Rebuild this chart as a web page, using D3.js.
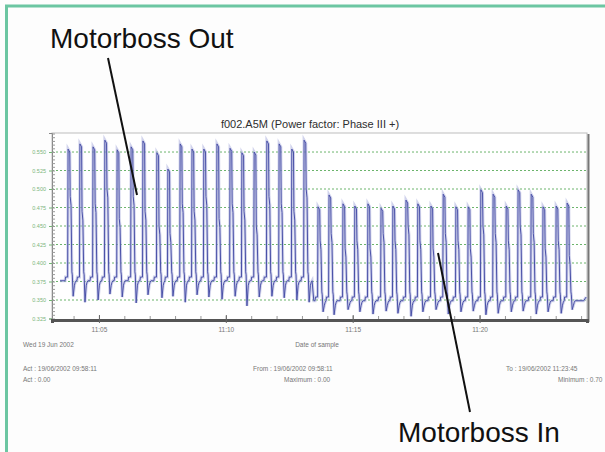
<!DOCTYPE html>
<html>
<head>
<meta charset="utf-8">
<script src="https://cdn.jsdelivr.net/npm/d3@7"></script>
<style>
  body { margin: 0; background: #fdfdfd; }
  svg { display: block; font-family: "Liberation Sans", Arial, sans-serif; }
</style>
</head>
<body>
<div class="chart"></div>
<script>
const WIDTH = 605
const HEIGHT = 452
const MARGIN = {top: 133, right: 18, bottom: 132, left: 52}

const TITLE = "f002.A5M (Power factor: Phase III +)"
const TIME_START = "11:03:09"
const TIME_END = "11:24:14"
const X_TICKS = ["11:05", "11:10", "11:15", "11:20"]
const Y_TICKS = [0.325, 0.350, 0.375, 0.400, 0.425, 0.450, 0.475, 0.500, 0.525, 0.550]

// Motorboss out: spike times, peak, mid-step and dip values
const OUT_BASE = 0.376
const OUT_TIMES = ["11:03:47","11:04:15","11:04:46","11:05:14","11:05:43","11:06:16","11:06:44","11:07:17","11:07:43","11:08:12",
                   "11:08:40","11:09:08","11:09:39","11:10:10","11:10:38","11:11:07","11:11:37","11:12:06","11:12:36","11:13:05"]
const OUT_PEAKS = [0.554,0.561,0.557,0.566,0.553,0.557,0.565,0.549,0.527,0.561,0.554,0.554,0.561,0.555,0.549,0.550,0.565,0.561,0.554,0.566]
const OUT_MIDS  = [0.49,0.47,0.48,0.50,0.46,0.49,0.47,0.45,0.44,0.48,0.47,0.49,0.46,0.48,0.47,0.45,0.49,0.48,0.47,0.50]
const OUT_DIPS  = [0.355,0.347,0.350,0.358,0.354,0.346,0.357,0.353,0.355,0.347,0.357,0.354,0.351,0.355,0.342,0.354,0.355,0.353,0.350,0.347]

// Motorboss in
const IN_BASE = 0.349
const IN_TIMES = ["11:13:38","11:14:04","11:14:37","11:15:05","11:15:36","11:16:07","11:16:35","11:17:06","11:17:34","11:18:05","11:18:34",
                  "11:19:04","11:19:33","11:20:03","11:20:32","11:21:03","11:21:31","11:22:02","11:22:30","11:23:01","11:23:27"]
const IN_PEAKS = [0.476,0.492,0.480,0.477,0.480,0.474,0.477,0.485,0.480,0.477,0.493,0.476,0.476,0.499,0.493,0.477,0.499,0.493,0.476,0.477,0.481]
const IN_MIDS  = [0.43,0.44,0.42,0.43,0.42,0.44,0.43,0.45,0.43,0.42,0.44,0.43,0.42,0.45,0.44,0.43,0.45,0.44,0.42,0.43,0.41]
const IN_DIPS  = [0.334,0.330,0.337,0.334,0.331,0.335,0.332,0.328,0.334,0.337,0.331,0.334,0.335,0.330,0.332,0.334,0.335,0.331,0.334,0.332,0.337]

const parseTime = d3.timeParse("%H:%M:%S")
const sec = (t, s) => new Date(t.getTime() + s * 1000)

// one pump cycle: small step, sharp rise, short top, fall through a step, dip under baseline, recover
function cyclePoints(t, peak, mid, dip, base) {
  return [
    [sec(t, -7), base], [sec(t, -6), base + 0.005], [sec(t, -1), base + 0.005],
    [t, peak], [sec(t, 4), peak - 0.004], [sec(t, 5), mid], [sec(t, 7), mid - 0.012],
    [sec(t, 9), base + 0.012], [sec(t, 10), base + 0.008], [sec(t, 12), dip],
    [sec(t, 15), base - 0.006], [sec(t, 17), base - 0.002], [sec(t, 19), base]
  ]
}

let series = [[parseTime("11:03:28"), OUT_BASE]]
OUT_TIMES.forEach((t, i) => series.push(...cyclePoints(parseTime(t), OUT_PEAKS[i], OUT_MIDS[i], OUT_DIPS[i], OUT_BASE)))
series.push([parseTime("11:13:24"), OUT_BASE], [parseTime("11:13:28"), IN_BASE])
IN_TIMES.forEach((t, i) => series.push(...cyclePoints(parseTime(t), IN_PEAKS[i], IN_MIDS[i], IN_DIPS[i], IN_BASE)))
series.push([parseTime("11:24:06"), IN_BASE], [parseTime("11:24:12"), IN_BASE + 0.005])

const svg = d3.select(".chart").append("svg").attr("width", WIDTH).attr("height", HEIGHT)

// green frame of the figure
svg.append("rect").attr("x", 6.5).attr("y", 6).attr("width", 620).attr("height", 470)
  .attr("fill", "none").attr("stroke", "#6cc6a2").attr("stroke-width", 3)

const x = d3.scaleTime().domain([parseTime(TIME_START), parseTime(TIME_END)]).range([MARGIN.left, WIDTH - MARGIN.right])
const y = d3.scaleLinear().domain([0.325, 0.5757]).range([HEIGHT - MARGIN.bottom - 1.5, MARGIN.top])

// Plot box
svg.append("rect").attr("x", MARGIN.left).attr("y", MARGIN.top)
  .attr("width", WIDTH - MARGIN.right - MARGIN.left).attr("height", HEIGHT - MARGIN.bottom - MARGIN.top)
  .attr("fill", "#fff").attr("stroke", "#bdbdbd")
svg.append("line").attr("x1", WIDTH - MARGIN.right + 1.5).attr("x2", WIDTH - MARGIN.right + 1.5)
  .attr("y1", MARGIN.top + 1).attr("y2", HEIGHT - MARGIN.bottom + 2).attr("stroke", "#777").attr("stroke-width", 2)

svg.append("text").attr("x", 310).attr("y", 128).attr("text-anchor", "middle")
  .attr("font-size", 11).attr("fill", "#2e2e2e").text(TITLE)

// Gridlines
svg.append("g").selectAll("line").data(Y_TICKS.slice(1)).join("line")
  .attr("x1", MARGIN.left).attr("x2", WIDTH - MARGIN.right)
  .attr("y1", d => y(d)).attr("y2", d => y(d))
  .attr("stroke", "#6cb46c").attr("stroke-dasharray", "2,2")

// Y axis: labels + dense minor ticks
const yAxis = svg.append("g").attr("transform", `translate(${MARGIN.left},0)`)
  .call(d3.axisLeft(y).tickValues(Y_TICKS).tickFormat(d3.format(".3f")).tickSize(3).tickPadding(3))
yAxis.select(".domain").attr("stroke", "#888")
yAxis.selectAll(".tick line").attr("stroke", "#72b872")
yAxis.selectAll(".tick text").attr("fill", "#7bb57b").attr("font-size", 5.5).attr("font-family", "Liberation Sans, Arial")
svg.append("g").attr("transform", `translate(${MARGIN.left},0)`)
  .call(d3.axisRight(y).tickValues(d3.range(0.325, 0.5751, 0.005)).tickSize(3).tickFormat(""))
  .call(g => g.select(".domain").remove())
  .selectAll(".tick line").attr("stroke", "#999")

// Signal: soft halo then the trace
const line = d3.line().x(d => x(d[0])).y(d => y(d[1]))
svg.append("path").datum(series).attr("d", line).attr("fill", "none")
  .attr("stroke", "#b2b6e0").attr("stroke-width", 3).attr("stroke-opacity", 0.6)
svg.append("path").datum(series).attr("d", line).attr("fill", "none")
  .attr("stroke", "#4a51a8").attr("stroke-width", 1)

// X axis
const xBottom = HEIGHT - MARGIN.bottom
const xMinor = svg.append("g").attr("transform", `translate(0,${xBottom})`)
  .call(d3.axisTop(x).ticks(d3.timeMinute.every(1)).tickSize(4).tickFormat(""))
xMinor.select(".domain").remove()
xMinor.selectAll(".tick line").attr("stroke", "#999")
const xAxis = svg.append("g").attr("transform", `translate(0,${xBottom})`)
  .call(d3.axisBottom(x).tickValues(X_TICKS.map(d => d3.timeParse("%H:%M")(d))).tickFormat(d3.timeFormat("%H:%M")).tickSize(3).tickPadding(4))
xAxis.select(".domain").attr("stroke", "#555").attr("stroke-width", 3)
xAxis.selectAll(".tick line").attr("stroke", "#666").attr("y1", -5)
xAxis.selectAll(".tick text").attr("fill", "#777").attr("font-size", 6.5).attr("font-family", "Liberation Sans, Arial")

// Footer info
const footer = [
  {x: 23, y: 347, a: "start", t: "Wed 19 Jun 2002"},
  {x: 317, y: 347, a: "middle", t: "Date of sample"},
  {x: 23, y: 371, a: "start", t: "Act : 19/06/2002 09:58:11"},
  {x: 23, y: 382, a: "start", t: "Act : 0.00"},
  {x: 253, y: 371, a: "start", t: "From : 19/06/2002 09:58:11"},
  {x: 284, y: 382, a: "start", t: "Maximum : 0.00"},
  {x: 506, y: 371, a: "start", t: "To : 19/06/2002 11:23:45"},
  {x: 558, y: 382, a: "start", t: "Minimum : 0.70"}
]
svg.append("g").selectAll("text").data(footer).join("text")
  .attr("x", d => d.x).attr("y", d => d.y).attr("text-anchor", d => d.a)
  .attr("font-size", 6.5).attr("fill", "#777").text(d => d.t)

// Annotations
svg.append("line").attr("x1", 108).attr("y1", 58).attr("x2", 137).attr("y2", 195).attr("stroke", "#111").attr("stroke-width", 2)
svg.append("line").attr("x1", 438).attr("y1", 253).attr("x2", 470).attr("y2", 412).attr("stroke", "#111").attr("stroke-width", 2)
svg.append("text").attr("x", 50).attr("y", 48).attr("font-size", 28).attr("fill", "#111").text("Motorboss Out")
svg.append("text").attr("x", 398).attr("y", 442).attr("font-size", 28).attr("fill", "#111").text("Motorboss In")
</script>
</body>
</html>
